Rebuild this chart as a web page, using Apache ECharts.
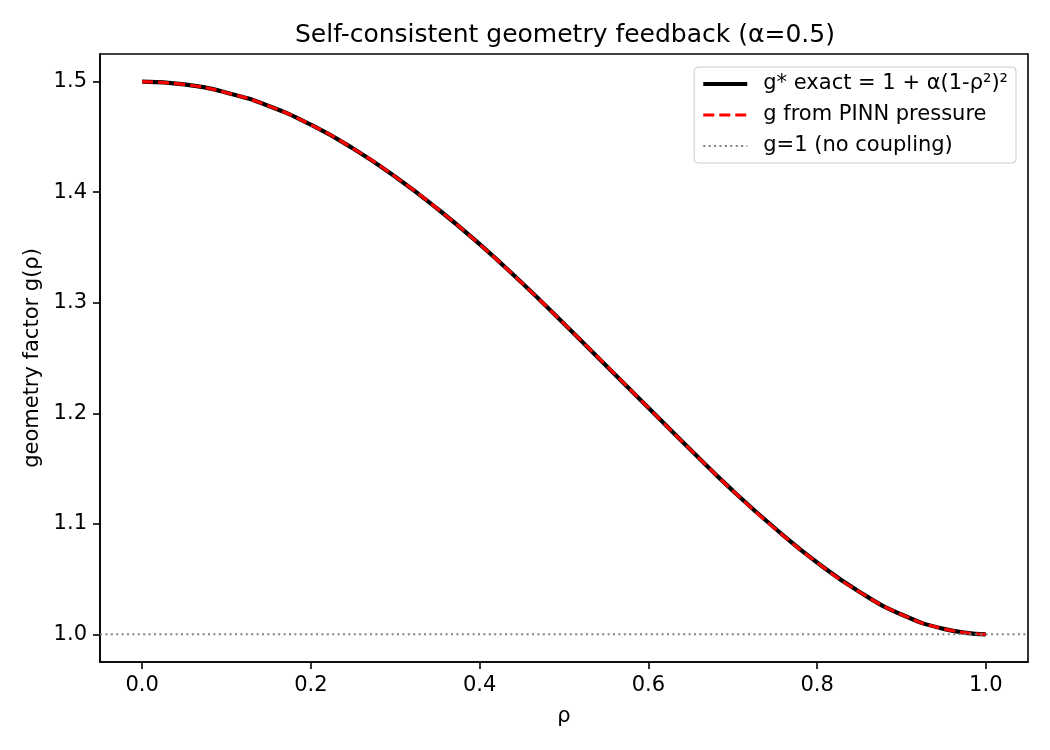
<!DOCTYPE html>
<html>
<head>
<meta charset="utf-8">
<script src="https://cdn.jsdelivr.net/npm/echarts@6/dist/echarts.min.js"></script>
<style>
  html, body { margin: 0; padding: 0; background: #fff; }
  #chart { width: 1050px; height: 750px; }
</style>
</head>
<body>
<div id="chart"></div>
<script>
// values
var rho = [0.0, 0.05, 0.1, 0.15, 0.2, 0.25, 0.3, 0.35, 0.4, 0.45, 0.5,
           0.55, 0.6, 0.65, 0.7, 0.75, 0.8, 0.85, 0.9, 0.95, 1.0];
var gExact = [1.500, 1.4975, 1.490, 1.478, 1.461, 1.4395, 1.414, 1.385, 1.353, 1.318, 1.281,
              1.243, 1.205, 1.167, 1.130, 1.096, 1.065, 1.0385, 1.018, 1.005, 1.000];
var gPinn = [1.500, 1.4974, 1.490, 1.478, 1.461, 1.4395, 1.414, 1.385, 1.3528, 1.318, 1.281,
             1.2433, 1.205, 1.167, 1.130, 1.0957, 1.065, 1.0385, 1.018, 1.005, 1.000];
var refX = [-0.05, 1.05];
var refY = [1.0, 1.0];
var xTicks = [0.0, 0.2, 0.4, 0.6, 0.8, 1.0];
var yTicks = [1.0, 1.1, 1.2, 1.3, 1.4, 1.5];
var names = ['g* exact = 1 + α(1-ρ²)²', 'g from PINN pressure', 'g=1 (no coupling)'];

function pairs(xs, ys) {
  return xs.map(function (x, i) { return [x, ys[i]]; });
}

var font = 'DejaVu Sans';
var chart = echarts.init(document.getElementById('chart'), null, { renderer: 'canvas' });

chart.setOption({
  animation: false,
  backgroundColor: '#fff',
  title: {
    text: 'Self-consistent geometry feedback (α=0.5)',
    left: 290,
    top: 18,
    textStyle: { fontFamily: font, fontSize: 25, fontWeight: 'normal', color: '#000' }
  },
  grid: {
    left: 100, right: 22, top: 54, bottom: 88,
    show: true, borderColor: '#000', borderWidth: 1.6, backgroundColor: 'transparent'
  },
  legend: {
    right: 34,
    top: 67,
    orient: 'vertical',
    itemWidth: 44,
    itemHeight: 14,
    itemGap: 9,
    padding: [6, 8, 6, 7],
    borderColor: '#cccccc',
    borderWidth: 1,
    borderRadius: 4,
    backgroundColor: 'rgba(255,255,255,0.8)',
    itemStyle: { color: 'rgba(0,0,0,0)', borderColor: 'rgba(0,0,0,0)', borderWidth: 0 },
    textStyle: { fontFamily: font, fontSize: 21, color: '#000', lineHeight: 22, padding: [0, 0, 0, 11] },
    data: [
      { name: names[0], lineStyle: { width: 4.2 } },
      { name: names[1], lineStyle: { width: 3.1 } },
      { name: names[2], lineStyle: { width: 2 } }
    ]
  },
  xAxis: {
    type: 'value',
    min: -0.05,
    max: 1.05,
    name: 'ρ',
    nameLocation: 'middle',
    nameGap: 44,
    nameTextStyle: { fontFamily: font, fontSize: 21, color: '#000' },
    axisLine: { show: true, onZero: false, lineStyle: { color: '#000', width: 1.6 } },
    axisTick: { show: true, length: 7, lineStyle: { color: '#000', width: 1.6 }, customValues: xTicks },
    axisLabel: {
      fontFamily: font, fontSize: 21, color: '#000', margin: 13,
      customValues: xTicks,
      formatter: function (v) { return v.toFixed(1); }
    },
    splitLine: { show: false }
  },
  yAxis: {
    type: 'value',
    min: 0.975,
    max: 1.525,
    name: 'geometry factor g(ρ)',
    nameLocation: 'middle',
    nameGap: 56,
    nameTextStyle: { fontFamily: font, fontSize: 21, color: '#000' },
    axisLine: { show: true, onZero: false, lineStyle: { color: '#000', width: 1.6 } },
    axisTick: { show: true, length: 7, lineStyle: { color: '#000', width: 1.6 }, customValues: yTicks },
    axisLabel: {
      fontFamily: font, fontSize: 21, color: '#000', margin: 13,
      customValues: yTicks,
      formatter: function (v) { return v.toFixed(1); }
    },
    splitLine: { show: false }
  },
  series: [
    {
      name: names[0],
      type: 'line',
      data: pairs(rho, gExact),
      smooth: true,
      symbol: 'none',
      lineStyle: { color: '#000', width: 4.2 },
      itemStyle: { color: '#000' },
      z: 2
    },
    {
      name: names[1],
      type: 'line',
      data: pairs(rho, gPinn),
      smooth: true,
      symbol: 'none',
      lineStyle: { color: '#ff0000', width: 3.1, type: [11, 5] },
      itemStyle: { color: '#ff0000' },
      z: 3
    },
    {
      name: names[2],
      type: 'line',
      data: pairs(refX, refY),
      symbol: 'none',
      lineStyle: { color: '#808080', width: 2, type: [2, 3.4] },
      itemStyle: { color: '#808080' },
      z: 4
    }
  ]
});
</script>
</body>
</html>
